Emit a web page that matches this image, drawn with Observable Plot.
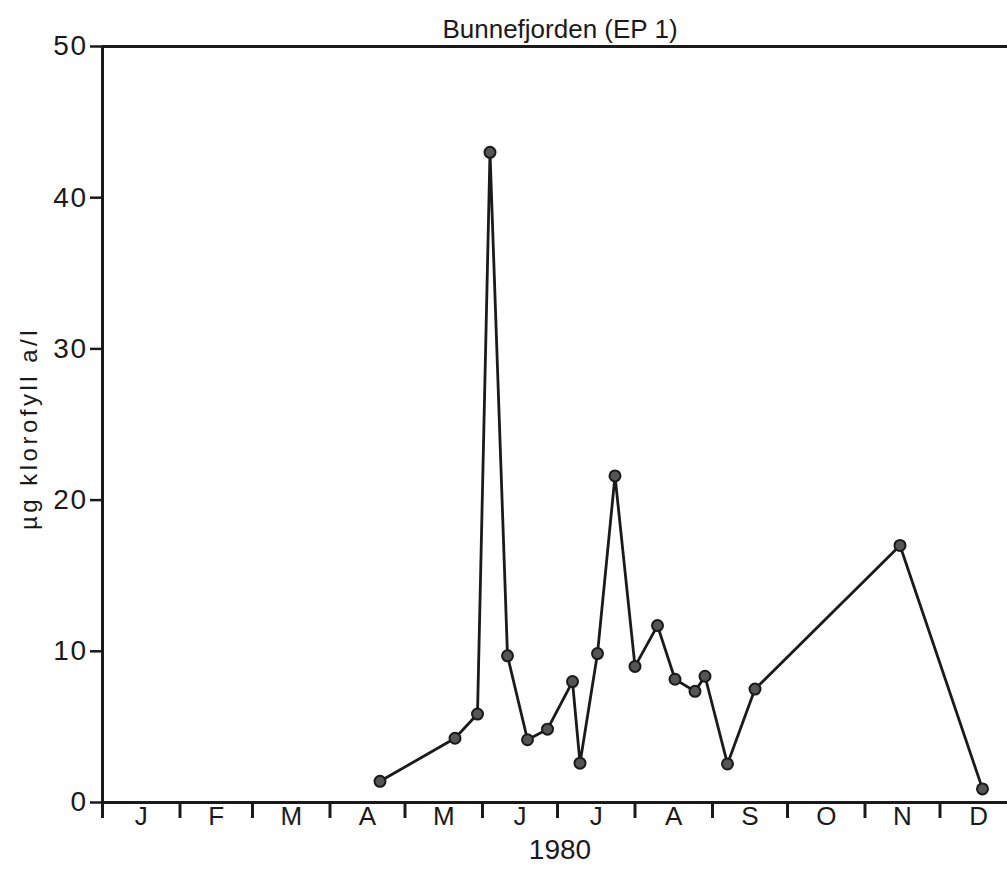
<!DOCTYPE html>
<html><head><meta charset="utf-8">
<script src="https://cdn.jsdelivr.net/npm/d3@7"></script>
<script src="https://cdn.jsdelivr.net/npm/@observablehq/plot@0.6"></script>
<style>
html,body{margin:0;padding:0;background:#fff;overflow:hidden;width:1007px;height:876px}
g[aria-label="y-axis tick label"] text{letter-spacing:1.5px}
</style>
</head><body><div id="chart"></div>
<script>
const title = "Bunnefjorden (EP 1)";
const yLabel = "µg klorofyll a/l";
const xLabel = "1980";
const sampleDates = ["1980-04-21","1980-05-21","1980-05-30","1980-06-04","1980-06-11","1980-06-19","1980-06-27","1980-07-07","1980-07-10","1980-07-17","1980-07-24","1980-08-01","1980-08-10","1980-08-17","1980-08-25","1980-08-29","1980-09-07","1980-09-18","1980-11-15","1980-12-18"];
const chlorophyll = [1.4,4.25,5.85,43.0,9.7,4.15,4.85,8.0,2.6,9.85,21.6,9.0,11.7,8.15,7.35,8.35,2.55,7.5,17.0,0.9];
const monthLabels = ["J","F","M","A","M","J","J","A","S","O","N","D"];
const yTicks = [0,10,20,30,40,50];

const data = sampleDates.map((d,i) => ({date: new Date(d + "T00:00:00Z"), value: chlorophyll[i]}));
const monthStarts = d3.utcMonths(new Date("1980-01-01T00:00:00Z"), new Date("1981-01-01T00:00:00Z"));
const monthMids = monthStarts.map((d,i) => ({date: new Date((+d + +d3.utcMonth.offset(d,1))/2), label: monthLabels[i]}));
const ink = "#1a1a1a";

const chart = Plot.plot({
  width: 1007,
  height: 876,
  marginLeft: 102,
  marginRight: -10,
  marginTop: 46,
  marginBottom: 74,
  style: {fontFamily: "'Liberation Sans', Arial, sans-serif", background: "#fff", overflow: "hidden", color: ink},
  x: {type: "utc", domain: [new Date("1980-01-01T00:00:00Z"), new Date("1981-01-01T00:00:00Z")]},
  y: {domain: [0, 50]},
  marks: [
    Plot.ruleY([0], {stroke: ink, strokeWidth: 3}),
    Plot.ruleY([50], {stroke: ink, strokeWidth: 3}),
    Plot.ruleX([new Date("1980-01-01T00:00:00Z")], {stroke: ink, strokeWidth: 3}),
    Plot.axisY({ticks: yTicks, tickSize: 12, tickPadding: 3, fontSize: 28, strokeWidth: 2.5, stroke: ink, fill: ink, label: null}),
    Plot.axisX({ticks: monthStarts, tickSize: 16, tickFormat: () => "", strokeWidth: 3, stroke: ink, label: null}),
    Plot.text(monthMids, {x: "date", frameAnchor: "bottom", text: "label", dy: 22, fontSize: 26, fill: ink}),
    Plot.text([xLabel], {frameAnchor: "bottom", dy: 56, fontSize: 28, fill: ink}),
    Plot.text([title], {frameAnchor: "top", dy: -27, fontSize: 26, fill: ink}),
    Plot.text([yLabel], {frameAnchor: "left", textAnchor: "middle", dx: -73, dy: 4, rotate: -90, fontSize: 24, fill: ink}),
    Plot.line(data, {x: "date", y: "value", stroke: ink, strokeWidth: 2.8}),
    Plot.dot(data, {x: "date", y: "value", r: 5.5, fill: "#555", stroke: ink, strokeWidth: 2})
  ]
});
d3.select(chart).selectAll("text").filter(function(){ return this.textContent === yLabel; }).style("letter-spacing", "3.5px");
document.getElementById("chart").appendChild(chart);
</script>
</body></html>
